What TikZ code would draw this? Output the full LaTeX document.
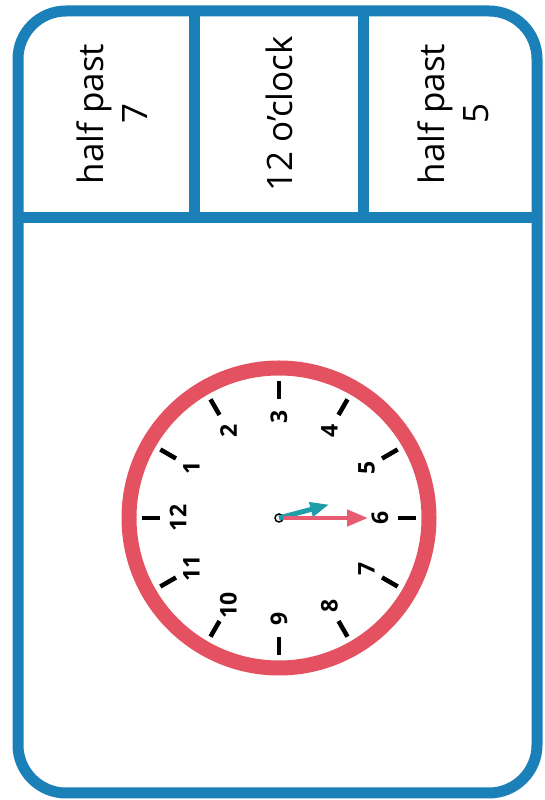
\documentclass[tikz,border=0pt]{standalone}
\usepackage{fontspec}
\setmainfont{Open Sans}
\usetikzlibrary{arrows.meta}
\definecolor{cardblue}{RGB}{27,128,184}
\definecolor{ringred}{RGB}{228,82,98}
\definecolor{minpink}{RGB}{231,92,114}
\definecolor{hourteal}{RGB}{31,158,170}
\tikzset{
  frame/.style={cardblue, line width=11pt},
  timelabel/.style={rotate=90, align=center, font=\fontsize{35}{44}\selectfont},
  numlabel/.style={rotate=90, font=\bfseries\fontsize{23}{23}\selectfont},
  tick/.style={line width=4.5pt}
}
\begin{document}
\begin{tikzpicture}[x=1pt,y=1pt]
  \useasboundingbox (0,0) rectangle (545,800);
  % card and cells
  \draw[frame, rounded corners=48pt] (18,7) rectangle (537,789);
  \draw[frame] (18,582) -- (537,582);
  \draw[frame] (194.5,582) -- (194.5,789);
  \draw[frame] (363,582) -- (363,789);
  \node[timelabel] (halfseven) at (112,686) {half past\\7};
  \node[timelabel] (twelve) at (279,686) {12 o'clock};
  \node[timelabel] (halffive) at (453,686) {half past\\5};
  % clock face
  \begin{scope}[shift={(279,282)}]
    \draw[ringred, line width=15pt] (0,0) circle (150);
    \foreach \h in {1,...,12} {
      \draw[tick] ({180-30*\h}:119) -- ({180-30*\h}:137);
      \node[numlabel] (num\h) at ({180-30*\h}:101) {\h};
    }
    \node[circle, draw, line width=1.5pt, inner sep=0pt, minimum size=8pt] (pivot) at (0,0) {};
    \coordinate (hourtip) at (15:52);
    \coordinate (mintip) at (0:89);
    \draw[hourteal, line width=5pt, -{Triangle[length=19pt,width=14pt]}] (pivot.center) -- (hourtip);
    \draw[minpink, line width=4.5pt, -{Triangle[length=21pt,width=16pt]}] (pivot.east) -- (mintip);
  \end{scope}
\end{tikzpicture}
\end{document}
